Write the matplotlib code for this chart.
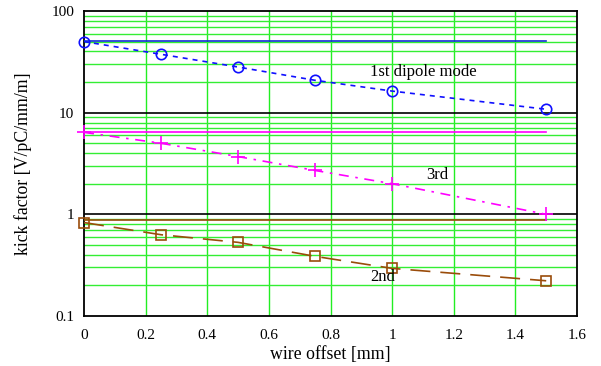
import matplotlib
matplotlib.use("Agg")
import matplotlib.pyplot as plt
import numpy as np

plt.rcParams['font.family'] = ['Liberation Serif', 'DejaVu Serif']

offset = [0, 0.25, 0.5, 0.75, 1.0, 1.5]
dipole1 = [50, 37.5, 28.1, 20.8, 16.3, 10.8]
mode3 = [6.4, 5.0, 3.7, 2.7, 2.0, 1.0]
mode2 = [0.83, 0.63, 0.53, 0.386, 0.294, 0.222]
ref_levels = [50.5, 6.5, 0.88]
ref_x = [0, 1.5]

xticks = [0, 0.2, 0.4, 0.6, 0.8, 1, 1.2, 1.4, 1.6]
xticklabels = ['0', '0.2', '0.4', '0.6', '0.8', '1', '1.2', '1.4', '1.6']
yticks = [0.1, 1, 10, 100]
yticklabels = ['0.1', '1', '10', '100']

c_blue = '#1010ff'
c_mag = '#ff00ff'
c_brown = '#9a4c0a'

fig = plt.figure(figsize=(6.01, 3.66), dpi=100)
ax = fig.add_axes([0.1398, 0.1366, 0.8203, 0.8334])
ax.set_yscale('log')
ax.set_xlim(0, 1.6)
ax.set_ylim(0.1, 100)

# grid
for x in xticks[1:-1]:
    ax.axvline(x, color='#22ee22', lw=1.0, zorder=1)
for dec in [0.1, 1, 10]:
    for m in range(2, 10):
        ax.axhline(dec * m, color='#33ee33', lw=1.0, zorder=1)
for d in [1, 10]:
    ax.axhline(d, color='black', lw=1.2, zorder=2)

# reference lines
ax.plot(ref_x, [ref_levels[0]] * 2, color='#1030d0', lw=1.2, zorder=3)
ax.plot(ref_x, [ref_levels[1]] * 2, color=c_mag, lw=1.2, zorder=3)
ax.plot(ref_x, [ref_levels[2]] * 2, color=c_brown, lw=1.2, zorder=3)

# series
ax.plot(offset, dipole1, color=c_blue, ls=(0, (3, 3)), lw=1.2, marker='o',
        ms=7.5, mfc='none', mec=c_blue, mew=1.2, zorder=4, clip_on=False)
ax.plot(offset, mode3, color=c_mag, ls=(0, (6, 4, 1.5, 4)), lw=1.2, marker='+',
        ms=10, mec=c_mag, mew=1.2, zorder=4, clip_on=False)
ax.plot(offset, mode2, color=c_brown, ls=(0, (12, 6)), lw=1.2, marker='s',
        ms=6.5, mfc='none', mec=c_brown, mew=1.2, zorder=4, clip_on=False)

ax.text(1.10, 25, '1st dipole mode', fontsize=12, ha='center', va='center', zorder=5)
ax.text(1.145, 2.44, '3rd', fontsize=12, ha='center', va='center', zorder=5)
ax.text(0.97, 0.242, '2nd', fontsize=12, ha='center', va='center', zorder=5)

ax.set_xticks(xticks)
ax.set_xticklabels(xticklabels, fontsize=11)
ax.set_yticks(yticks)
ax.set_yticklabels(yticklabels, fontsize=11)
ax.yaxis.set_minor_locator(matplotlib.ticker.NullLocator())
ax.tick_params(axis='x', length=0, pad=9)
ax.tick_params(axis='y', length=0, pad=7)
for s in ax.spines.values():
    s.set_linewidth(1.3)

ax.set_xlabel('wire offset [mm]', fontsize=12.8, labelpad=3)
ax.set_ylabel('kick factor [V/pC/mm/m]', fontsize=12.8, labelpad=14)

fig.savefig('out.png', dpi=100)
